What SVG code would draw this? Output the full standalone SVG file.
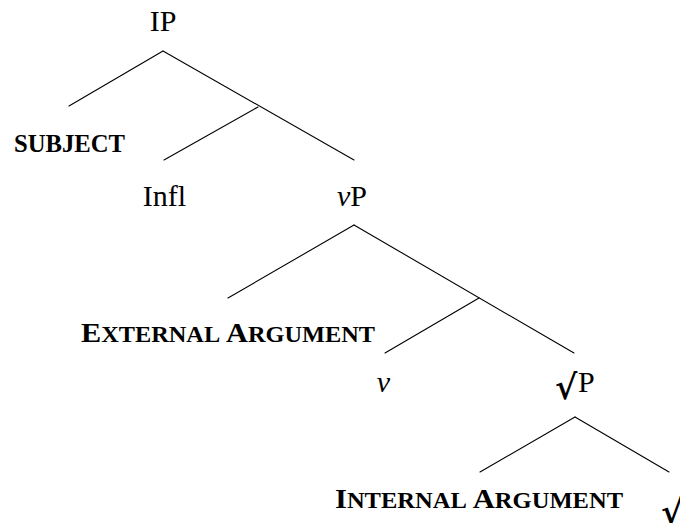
<svg xmlns="http://www.w3.org/2000/svg" width="680" height="523" viewBox="0 0 680 523">
<style>
.n{font-family:"Liberation Serif","DejaVu Serif",serif;font-size:30px;fill:#000}
.sc{font-family:"Liberation Serif","DejaVu Serif",serif;font-weight:bold;fill:#000}
.big{font-size:28px}
.small{font-size:22.5px}
.rt{font-family:"DejaVu Serif",serif;font-size:34px;font-weight:bold;fill:#000}
.e{stroke:#000;stroke-width:1.1;fill:none;stroke-linecap:round}
</style>
<rect width="680" height="523" fill="#fff"/>
<g id="connectors">
<line class="e" x1="163" y1="51" x2="69" y2="106"/>
<line class="e" x1="163" y1="51" x2="354" y2="160"/>
<line class="e" x1="258" y1="107" x2="164" y2="160"/>
<line class="e" x1="354" y1="225" x2="228" y2="298"/>
<line class="e" x1="354" y1="225" x2="574" y2="353"/>
<line class="e" x1="479" y1="298" x2="385" y2="353"/>
<line class="e" x1="575" y1="417" x2="480" y2="472"/>
<line class="e" x1="575" y1="417" x2="669" y2="472"/>
</g>
<g id="IP"><text class="n" x="163" y="31" text-anchor="middle">IP</text></g>
<g id="subject"><text class="sc" x="14" y="152" font-size="25" textLength="111" lengthAdjust="spacingAndGlyphs">SUBJECT</text></g>
<g id="Infl"><text class="n" x="164.5" y="206" text-anchor="middle">Infl</text></g>
<g id="vP"><text class="n" x="352" y="206" text-anchor="middle"><tspan font-style="italic">ν</tspan>P</text></g>
<g id="external-argument"><text class="sc" x="81" y="342" textLength="294" lengthAdjust="spacingAndGlyphs"><tspan class="big">E</tspan><tspan class="small">XTERNAL</tspan><tspan class="big"> A</tspan><tspan class="small">RGUMENT</tspan></text></g>
<g id="v"><text class="n" x="383.5" y="392" text-anchor="middle" font-style="italic">ν</text></g>
<g id="rootP"><text class="rt" x="555" y="399">√</text><text class="n" x="578" y="392">P</text></g>
<g id="internal-argument"><text class="sc" x="335" y="508" textLength="288" lengthAdjust="spacingAndGlyphs"><tspan class="big">I</tspan><tspan class="small">NTERNAL</tspan><tspan class="big"> A</tspan><tspan class="small">RGUMENT</tspan></text></g>
<g id="root"><text class="rt" x="661" y="524">√</text></g>
</svg>
